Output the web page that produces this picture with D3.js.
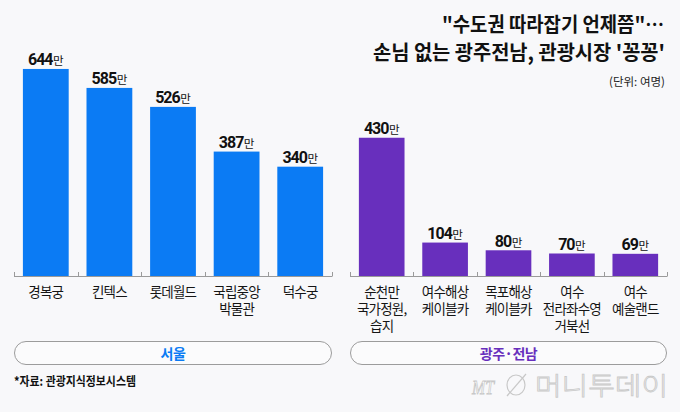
<!DOCTYPE html>
<html><head><meta charset="utf-8">
<script src="https://cdn.jsdelivr.net/npm/d3@7"></script>
<style>
html,body{margin:0;padding:0;background:#f8f8fa;}
svg{display:block;}
text{font-family:"Noto Sans CJK KR","Noto Sans",sans-serif;}
</style></head>
<body>
<svg id="chart" width="680" height="412"></svg>
<script>
// ---- data ----
const seoulCategories = ["경복궁","킨텍스","롯데월드","국립중앙\n박물관","덕수궁"];
const seoulValues = [644, 585, 526, 387, 340];
const jeonnamCategories = ["순천만\n국가정원,\n습지","여수해상\n케이블카","목포해상\n케이블카","여수\n전라좌수영\n거북선","여수\n예술랜드"];
const jeonnamValues = [430, 104, 80, 70, 69];
const groupLabels = ["서울", "광주·전남"];
const valueUnit = "만";
const titleLines = ["\"수도권 따라잡기 언제쯤\"…", "손님 없는 광주전남, 관광시장 '꽁꽁'"];
const unitNote = "(단위: 여명)";
const sourceNote = "*자료: 관광지식정보시스템";

const svg = d3.select("#chart");
svg.append("rect").attr("width",680).attr("height",412).attr("fill","#f8f8fa");

const baseY = 276;
const y = d3.scaleLinear().domain([0, 700]).range([baseY, baseY - 700*0.3215]);

function panel(cats, vals, x0, x1, color, groupLabel) {
  const x = d3.scaleBand().domain(cats).range([x0, x1]).paddingInner(0.28).paddingOuter(0.14);
  const g = svg.append("g");
  const data = cats.map((c,i)=>({c, v: vals[i]}));
  g.selectAll("rect.bar").data(data).join("rect")
    .attr("class","bar")
    .attr("x", d=>x(d.c)).attr("width", x.bandwidth())
    .attr("y", d=>y(d.v)).attr("height", d=>baseY - y(d.v))
    .attr("fill", color);
  g.append("line").attr("x1",x0).attr("x2",x1).attr("y1",baseY+0.5).attr("y2",baseY+0.5)
    .attr("stroke","#9a9a9a").attr("stroke-width",1);
  const step = x.step();
  const tickXs = cats.map(c => x(c) - step*x.paddingInner()/2).concat([x1]);
  tickXs[0] = x0;
  g.selectAll("line.tick").data(tickXs).join("line")
    .attr("class","tick")
    .attr("x1", d=>Math.round(d)+0.5).attr("x2", d=>Math.round(d)+0.5)
    .attr("y1", baseY-4).attr("y2", baseY+0.5)
    .attr("stroke","#9a9a9a").attr("stroke-width",1);
  const vl = g.selectAll("text.val").data(data).join("text")
    .attr("class","val")
    .attr("x", d=>x(d.c)+x.bandwidth()/2)
    .attr("y", d=>y(d.v)-3.5)
    .attr("text-anchor","middle")
    .attr("fill","#111");
  vl.append("tspan").text(d=>d.v)
    .style("font-family","Roboto, 'Liberation Sans', sans-serif")
    .attr("font-weight","bold").attr("font-size",16).attr("letter-spacing","-1");
  vl.append("tspan").text(valueUnit).attr("font-size",11.5).attr("dx",0.5);
  data.forEach(d=>{
    const lines = d.c.split("\n");
    lines.forEach((ln,i)=>{
      g.append("text")
        .attr("x", x(d.c)+x.bandwidth()/2)
        .attr("y", 297 + i*17)
        .attr("text-anchor","middle")
        .attr("font-size",13.5).attr("fill","#151515").attr("letter-spacing","-0.8")
        .text(ln);
    });
  });
  g.append("rect").attr("x", x0+0.5).attr("y", 341.5).attr("width", x1-x0-1).attr("height", 23)
    .attr("rx", 11.5).attr("ry", 11.5).attr("fill","#fbfbfc").attr("stroke","#9c9c9c").attr("stroke-width",1);
  g.append("text").attr("x",(x0+x1)/2).attr("y",358.5).attr("text-anchor","middle")
    .attr("font-size",14).attr("font-weight","bold").attr("fill",color).attr("letter-spacing","-0.5")
    .text(groupLabel);
}

panel(seoulCategories, seoulValues, 14, 332, "#0b7bf4", groupLabels[0]);
panel(jeonnamCategories, jeonnamValues, 350, 667, "#682fbd", groupLabels[1]);

svg.append("text").attr("x",664).attr("y",32).attr("text-anchor","end")
  .attr("font-size",20).attr("font-weight","bold").attr("fill","#111")
  .attr("textLength",222).attr("lengthAdjust","spacingAndGlyphs").text(titleLines[0]);
svg.append("text").attr("x",665).attr("y",60).attr("text-anchor","end")
  .attr("font-size",20).attr("font-weight","bold").attr("fill","#111")
  .attr("textLength",292).attr("lengthAdjust","spacingAndGlyphs").text(titleLines[1]);
svg.append("text").attr("x",665).attr("y",86).attr("text-anchor","end")
  .attr("font-size",11.5).attr("fill","#222")
  .attr("textLength",56).attr("lengthAdjust","spacingAndGlyphs").text(unitNote);

svg.append("text").attr("x",14).attr("y",386)
  .attr("font-size",12.5).attr("font-weight","bold").attr("fill","#111")
  .attr("textLength",122).attr("lengthAdjust","spacingAndGlyphs").text(sourceNote);

const wm = svg.append("g").attr("fill","#ffffff").attr("stroke","#c8c8c8").attr("stroke-width",0.8);
wm.append("text").attr("x",472).attr("y",394).attr("font-size",19).attr("font-style","italic")
  .style("font-family","'Liberation Serif',serif").attr("textLength",22).attr("lengthAdjust","spacingAndGlyphs").text("MT");
wm.append("ellipse").attr("cx",516).attr("cy",385).attr("rx",9).attr("ry",10).attr("fill","none").attr("stroke-width",1.2);
wm.append("line").attr("x1",507).attr("y1",396).attr("x2",526).attr("y2",374).attr("stroke-width",1.2);
wm.append("text").attr("x",535).attr("y",395).attr("font-size",25).attr("font-weight","300")
  .attr("textLength",133).attr("lengthAdjust","spacingAndGlyphs").text("머니투데이");
</script>
</body></html>
